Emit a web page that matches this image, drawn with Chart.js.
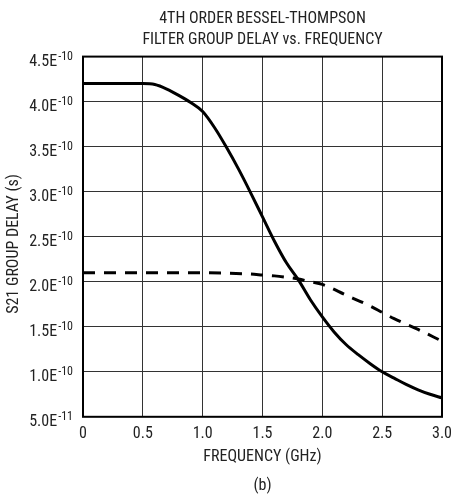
<!DOCTYPE html>
<html>
<head>
<meta charset="utf-8">
<script src="https://cdn.jsdelivr.net/npm/chart.js@4"></script>
<style>
  html, body { margin: 0; padding: 0; background: #fff; }
  #wrap { width: 451px; height: 497px; }
</style>
</head>
<body>
<div id="wrap"><canvas id="groupDelayChart"></canvas></div>
<script>
// frequency in GHz, delay in units of 1E-10 s
const freqGHz = [0, 0.5, 0.6, 0.7, 0.8, 0.9, 1.0, 1.1, 1.2, 1.3, 1.4, 1.5, 1.6, 1.7, 1.8, 1.9, 2.0, 2.1, 2.2, 2.3, 2.4, 2.5, 2.6, 2.7, 2.8, 2.9, 3.0];
const solidDelay = [4.2, 4.2, 4.19, 4.14, 4.07, 3.99, 3.89, 3.71, 3.49, 3.25, 2.99, 2.72, 2.45, 2.21, 2.02, 1.8, 1.61, 1.44, 1.3, 1.19, 1.09, 1.0, 0.93, 0.86, 0.8, 0.75, 0.71];

const dashFreqGHz = [0, 0.5, 1.0, 1.2, 1.4, 1.5, 1.6, 1.7, 1.8, 1.9, 2.0, 2.2, 2.4, 2.5, 2.6, 2.8, 3.0];
const dashDelay = [2.1, 2.1, 2.1, 2.095, 2.085, 2.075, 2.065, 2.05, 2.03, 2.0, 1.97, 1.85, 1.73, 1.66, 1.59, 1.47, 1.34];

const xTicks = [0, 0.5, 1.0, 1.5, 2.0, 2.5, 3.0];
const xTickLabels = ['0', '0.5', '1.0', '1.5', '2.0', '2.5', '3.0'];
const yTicks = [0.5, 1.0, 1.5, 2.0, 2.5, 3.0, 3.5, 4.0, 4.5];
const yTickMantissa = ['5.0E', '1.0E', '1.5E', '2.0E', '2.5E', '3.0E', '3.5E', '4.0E', '4.5E'];
const yTickExponent = ['-11', '-10', '-10', '-10', '-10', '-10', '-10', '-10', '-10'];

const FONT = "'Liberation Sans Narrow', 'Roboto Condensed', 'Arial Narrow', sans-serif";

const toPoints = (xs, ys) => xs.map((x, i) => ({ x: x, y: ys[i] }));

// box + custom y labels with superscript exponent
const axisDecor = {
    id: 'axisDecor',
    beforeDatasetsDraw(chart) {
        const { ctx, chartArea: a } = chart;
        ctx.save();
        ctx.strokeStyle = '#000';
        ctx.lineWidth = 2;
        ctx.strokeRect(a.left, a.top, a.right - a.left, a.bottom - a.top);
        ctx.restore();
    },
    afterDraw(chart) {
        const { ctx, chartArea: a } = chart;
        const yScale = chart.scales.y;
        ctx.save();
        ctx.fillStyle = '#222';
        ctx.textBaseline = 'middle';
        yTicks.forEach((v, i) => {
            const py = yScale.getPixelForValue(v);
            const right = a.left - 10;
            ctx.font = '12px ' + FONT;
            const ew = ctx.measureText(yTickExponent[i]).width;
            ctx.textAlign = 'right';
            ctx.fillText(yTickExponent[i], right, py);
            ctx.font = '16px ' + FONT;
            ctx.fillText(yTickMantissa[i], right - ew - 1, py + 5);
        });
        // y axis title
        ctx.translate(14, 244);
        ctx.rotate(-Math.PI / 2);
        ctx.textAlign = 'center';
        ctx.font = '16px ' + FONT;
        ctx.fillText('S21 GROUP DELAY (s)', 0, 0);
        ctx.restore();
    }
};

const ctx = document.getElementById('groupDelayChart').getContext('2d');

new Chart(ctx, {
    type: 'line',
    data: {
        datasets: [
            {
                label: 'solid',
                data: toPoints(freqGHz, solidDelay),
                borderColor: '#000',
                borderWidth: 3,
                pointRadius: 0,
                cubicInterpolationMode: 'monotone',
                fill: false
            },
            {
                label: 'dashed',
                data: toPoints(dashFreqGHz, dashDelay),
                borderColor: '#000',
                borderWidth: 3,
                borderDash: [12, 9],
                pointRadius: 0,
                cubicInterpolationMode: 'monotone',
                fill: false
            }
        ]
    },
    options: {
        responsive: true,
        maintainAspectRatio: false,
        animation: false,
        layout: { padding: { left: 83, right: 9, top: 9, bottom: 1 } },
        plugins: {
            legend: { display: false },
            tooltip: { enabled: false },
            title: {
                display: true,
                text: ['4TH ORDER BESSEL-THOMPSON', 'FILTER GROUP DELAY vs. FREQUENCY'],
                color: '#222',
                font: { family: FONT, size: 16, weight: 'normal', lineHeight: 1.3 },
                padding: { top: 0, bottom: 6 }
            },
            subtitle: {
                display: true,
                position: 'bottom',
                text: '(b)',
                color: '#222',
                font: { family: FONT, size: 16, lineHeight: 1.2 },
                padding: { top: 10, bottom: 0 }
            }
        },
        scales: {
            x: {
                type: 'linear',
                min: 0,
                max: 3,
                afterBuildTicks: axis => { axis.ticks = xTicks.map(v => ({ value: v })); },
                afterFit: axis => {
                    axis.paddingLeft = 0;
                    axis.paddingRight = 0;
                    axis.height = 50;
                },
                grid: { color: '#333', lineWidth: 1, drawTicks: false },
                border: { display: false },
                ticks: {
                    color: '#222',
                    padding: 8,
                    maxRotation: 0,
                    font: { family: FONT, size: 16, lineHeight: 1.2 },
                    callback: (v, i) => xTickLabels[i]
                },
                title: {
                    display: true,
                    text: 'FREQUENCY (GHz)',
                    color: '#222',
                    font: { family: FONT, size: 16, lineHeight: 1.2 },
                    padding: { top: 0, bottom: 0 }
                }
            },
            y: {
                type: 'linear',
                min: 0.5,
                max: 4.5,
                afterBuildTicks: axis => { axis.ticks = yTicks.map(v => ({ value: v })); },
                grid: { color: '#333', lineWidth: 1, drawTicks: false },
                border: { display: false },
                ticks: { display: false }
            }
        }
    },
    plugins: [axisDecor]
});
</script>
</body>
</html>
